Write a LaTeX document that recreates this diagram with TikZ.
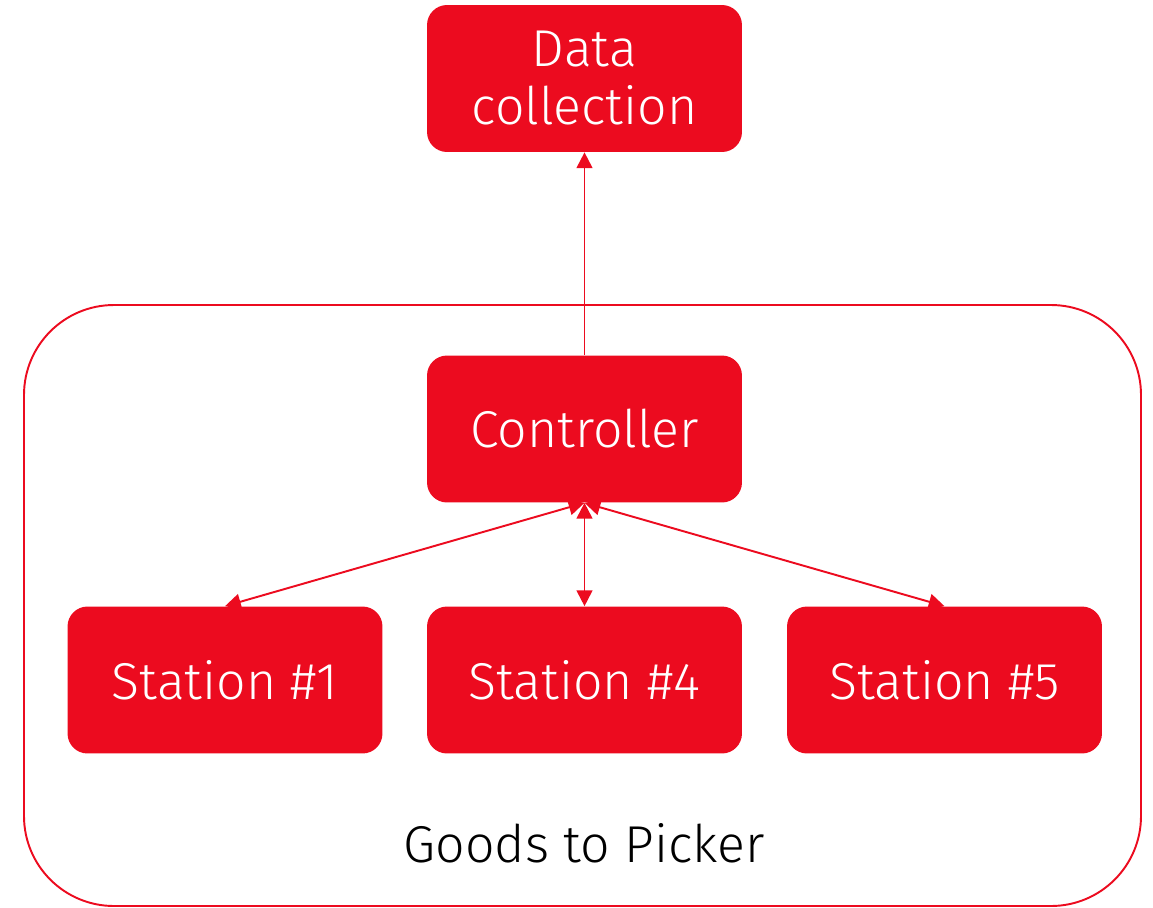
\documentclass[tikz,border=0pt]{standalone}
\usepackage{fontspec}
\setmainfont{Fira Sans Light}
\usetikzlibrary{arrows.meta}
\definecolor{gtpred}{HTML}{EC0B1F}

\begin{document}
\begin{tikzpicture}[x=0.02cm,y=-0.02cm,
    >={Triangle[length=9pt,width=9pt]},
    box/.style={fill=gtpred,text=white,rounded corners=0.4cm,minimum width=6.3cm,
      minimum height=2.94cm,align=center,font=\fontsize{29.5}{33}\selectfont},
    link/.style={draw=gtpred,line width=1.1pt}]
    \useasboundingbox (0,0) rectangle (1153,907);
    \draw[gtpred,line width=1.1pt,rounded corners=1.8cm] (24,305) rectangle (1141,906);
    \node[box] (data) at (584.5,78.5) {Data\\collection};
    \node[box] (ctrl) at (584.5,429) {Controller};
    \node[box] (st1) at (225,680) {Station \#1};
    \node[box] (st4) at (584.5,680) {Station \#4};
    \node[box] (st5) at (944.5,680) {Station \#5};
    \node[font=\fontsize{29.5}{33}\selectfont] (gtp) at (584,843) {Goods to Picker};
    \draw[link,->] (ctrl) -- (data);
    \draw[link,<->] (ctrl.south) -- (st1.north);
    \draw[link,<->] (ctrl.south) -- (st4.north);
    \draw[link,<->] (ctrl.south) -- (st5.north);
\end{tikzpicture}
\end{document}
